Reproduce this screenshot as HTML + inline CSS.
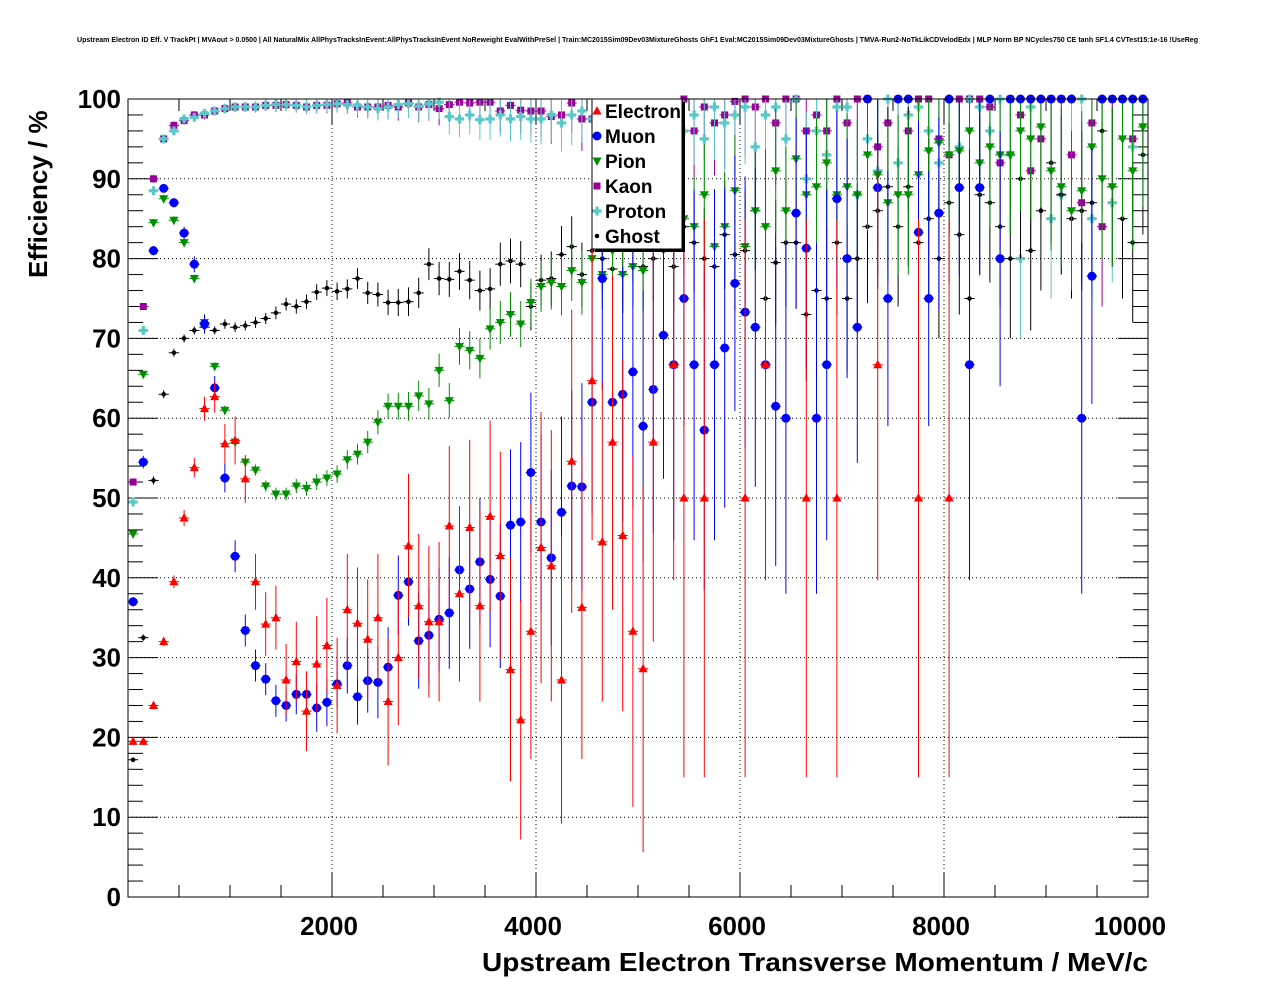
<!DOCTYPE html>
<html><head><meta charset="utf-8"><style>
html,body{margin:0;padding:0;background:#fff;}
svg{display:block;font-family:"Liberation Sans",sans-serif;}
</style></head><body>
<svg id="chart" width="1276" height="996" viewBox="0 0 1276 996" xmlns="http://www.w3.org/2000/svg">
<rect x="0" y="0" width="1276" height="996" fill="#fff"/>
<text x="77" y="42" font-size="7.2" font-weight="bold" textLength="1121" lengthAdjust="spacingAndGlyphs">Upstream Electron ID Eff. V TrackPt | MVAout &gt; 0.0500 | All NaturalMix AllPhysTracksInEvent:AllPhysTracksInEvent NoReweight EvalWithPreSel | Train:MC2015Sim09Dev03MixtureGhosts GhF1 Eval:MC2015Sim09Dev03MixtureGhosts | TMVA-Run2-NoTkLikCDVelodEdx | MLP Norm BP NCycles750 CE tanh SF1.4 CVTest15:1e-16 !UseReg</text>
<g id="grid"></g>
<g id="axes"></g>
<g id="marks"></g>
<rect x="128" y="99" width="1020" height="798" fill="none" stroke="#000" stroke-width="1"/>
<text transform="translate(47,278) rotate(-90)" font-size="26" font-weight="bold">Efficiency / %</text>
<text x="1148" y="971" font-size="26" font-weight="bold" text-anchor="end" textLength="666" lengthAdjust="spacingAndGlyphs">Upstream Electron Transverse Momentum / MeV/c</text>
<g id="legend"></g>
</svg>
<script>
const binCenters = [];
for (let i = 0; i < 100; i++) binCenters.push(50 + 100 * i);
const xTicks = [2000, 4000, 6000, 8000, 10000];
const xTickLabels = ["2000", "4000", "6000", "8000", "10000"];
const yTicks = [0, 10, 20, 30, 40, 50, 60, 70, 80, 90, 100];
const yTickLabels = ["0", "10", "20", "30", "40", "50", "60", "70", "80", "90", "100"];
const seriesNames = ["Electron", "Muon", "Pion", "Kaon", "Proton", "Ghost"];
const electron = [19.5,19.5,24,32,39.5,47.5,53.8,61.2,62.7,56.8,57.2,52.4,39.5,34.2,35,27.2,29.5,23.3,29.2,31.5,26.5,36,34.3,32.3,35,24.5,30,44,36.5,34.5,34.5,46.5,38,46.3,36.5,47.7,42.8,28.5,22.2,33.3,43.8,41.5,27.2,54.6,36.3,64.7,44.5,57,45.3,33.3,28.6,57,null,66.7,50,null,50,null,null,null,50,null,66.7,null,null,null,50,null,null,50,null,null,null,66.7,null,null,null,50,null,null,50,null,null,null,null,null,null,null,null,null,null,null,null,null,null,null,null,null,null,null];
const electronErr = [0.4,0.4,0.5,0.6,0.8,1,1.2,1.5,2,2.5,3,3,3.5,4,4,4.5,5,5,6,6,6,7,7,7.5,8,8,8.5,9,9,9.5,10,10,11,11,12,12,13,14,15,16,17,17,18,19,19,20,20,21,22,22,23,25,25,27,35,25,35,25,25,25,35,25,27,25,25,25,35,25,25,35,25,25,25,27,25,25,25,35,25,25,35];
const muon = [37,54.5,81,88.8,87,83.2,79.3,71.8,63.8,52.5,42.7,33.4,29,27.3,24.6,24,25.4,25.4,23.7,24.4,26.7,29,25.1,27.1,26.9,28.8,37.8,39.5,32.1,32.8,34.8,35.6,41,38.6,42,39.8,37.7,46.6,47,53.2,47,42.5,48.2,51.5,51.4,62,77.5,62,63,65.8,59,63.6,70.4,66.7,75,66.7,58.5,66.7,68.8,76.9,73.3,71.4,66.7,61.5,60,85.7,81.3,60,66.7,87.5,80,71.4,100,88.9,75,100,100,83.3,75,85.7,100,88.9,66.7,88.9,100,80,100,100,100,100,100,100,100,60,77.8,100,100,100,100,100];
const muonErr = [0.6,0.8,0.6,0.5,0.6,0.8,1,1.2,1.5,1.8,2,2,2,2,2,2,2.5,2.5,3,3,3,3.5,3.5,4,4.5,5,5,5.5,6,6,6.5,7,7,7.5,8,8.5,9,9.5,10,10,11,11,12,12,13,14,14,15,16,17,17,18,18,22,16,22,20,22,20,16,17,20,22,20,22,12,15,22,22,11,15,17,0,11,16,0,0,14,16,12,0,11,27,11,0,16,0,0,0,0,0,0,0,22,16,0,0,0,0,0];
const pion = [45.5,65.5,84.5,87.5,84.8,82,77.5,72,66.5,61,57,54.5,53.5,51.5,50.5,50.5,51.5,51.2,52,52.5,53,54.8,55.5,57,59.5,61.5,61.5,61.5,62.8,61.8,66,62.2,69,68.5,67.5,71.2,72,73,71.8,74.5,76.5,77,76.5,78.5,77,80,78,81,78,79,78.5,82,85,82,85,84,88,81.5,84,88.5,81.5,86,84,91,86,92.5,88,89,92,88,89,88,93,90.5,87,88,88,90.5,93.5,94.5,93,93.5,96,92,94,93,93,96,95,96.5,91,89,86,88.5,94,90,89,95,91,96.5];
const kaon = [52,74,90,95,96.7,97.3,98,98,98.5,98.8,99,99,99,99.2,99.2,99.3,99.2,99,99.2,99.2,99.4,99.5,99,99,99,99.2,99,99.5,99,99.3,98.8,99.3,99.6,99.5,99.6,99.6,98.5,99.2,98.6,98.5,98.5,97.8,98,99.5,97.5,97.5,96,99.5,95,97,99,99,96,98,100,96,99,97,98,99.7,100,99,100,97,100,100,96,98,96,100,97,100,100,94,97,100,96,100,100,95,93,100,100,100,99,92,100,98,91,95,100,100,93,87,97,84,100,100,95,100];
const proton = [49.5,71,88.5,95,96,97.5,97.7,98.2,98.5,98.8,99,99,99,99.2,99.3,99.3,99.2,99,99.2,99.3,99.4,99.3,99.2,99,98.8,99,99.3,99.4,99.1,99.4,99.6,97.8,97.5,98,97.4,97.5,98,97.5,97.8,97.5,97.5,98,97,98,98.5,97.5,98,97,98,98,99,99,96,97,96,98,95,99,97,98,99,94,98,99,95,100,90,96,93,99,99,88,95,91,100,92,98,99,96,92,100,94,100,99,96,100,93,80,99,100,85,88,100,100,85,100,87,100,94,100];
const ghost = [17.2,32.5,52.2,63,68.2,70,71,71.4,71,71.8,71.4,71.6,72,72.5,73.2,74.3,74,74.6,75.8,76.3,75.9,76.2,77.5,75.7,75.5,74.5,74.5,74.6,75.7,79.3,77.5,77.4,78.4,77.3,76,76.2,79.3,79.7,79.3,74,77.3,77.5,80.5,81.5,78,81,80,78.7,78,82,79,80,81,79,84,82,80,79,83,80.5,81,86,75,79.5,82,82,73,76,75,82,75,80,84,86,89,84,89,82,85,80,87,83,75,88,87,84,80,90,81,86,92,88,85,86,87,96,89,85,82,93];
const smallErr = [0.3,0.4,0.5,0.5,0.5,0.5,0.5,0.5,0.5,0.6,0.6,0.6,0.7,0.7,0.8,0.8,0.9,0.9,1,1,1.1,1.2,1.3,1.4,1.5,1.6,1.7,1.8,1.9,2,2.1,2.2,2.3,2.4,2.5,2.6,2.7,2.8,2.9,3,3.2,3.4,3.6,3.8,4,4.2,4.4,4.6,4.8,5,5.2,5.4,5.6,5.8,6,6.2,6.4,6.6,6.8,7,7.2,7.4,7.6,7.8,8,8.2,8.4,8.6,8.8,9,9.2,9.4,9.6,9.8,10,10,10,10,10,10,10,10,10,10,10,10,10,10,10,10,10,10,10,10,10,10,10,10,10,10];

const NS = "http://www.w3.org/2000/svg";
const X0 = 128, X1 = 1148, Y0 = 897, Y1 = 99;
function xs(v){ return X0 + (v/10000)*(X1-X0); }
function ys(v){ return Y0 - (v/100)*(Y0-Y1); }
function mk(tag, attrs, parent){ const e=document.createElementNS(NS,tag); for(const k in attrs) e.setAttribute(k,attrs[k]); parent.appendChild(e); return e; }

const grid = document.getElementById('grid'), axes = document.getElementById('axes'), marks = document.getElementById('marks');
xTicks.forEach(t=>{ if(t<10000){ const l=mk('line',{x1:xs(t),x2:xs(t),y1:Y0,y2:Y1,stroke:'#000','stroke-width':1,'stroke-dasharray':'1,3'},grid);

 }});
yTicks.forEach(t=>{ if(t>0&&t<100){ const l=mk('line',{x1:X0,x2:X1,y1:ys(t),y2:ys(t),stroke:'#000','stroke-width':1,'stroke-dasharray':'1,3'},grid);

 }});
for(let v=0; v<=10000; v+=500){ const major = v%2000===0; const len = major?25:12;
  mk('line',{x1:xs(v),x2:xs(v),y1:Y0,y2:Y0-len,stroke:'#000'},axes);
  mk('line',{x1:xs(v),x2:xs(v),y1:Y1,y2:Y1+len,stroke:'#000'},axes); }
for(let v=0; v<=100; v+=2){ const major = v%10===0; const len = major?30:15;
  mk('line',{x1:X0,x2:X0+len,y1:ys(v),y2:ys(v),stroke:'#000'},axes);
  mk('line',{x1:X1,x2:X1-len,y1:ys(v),y2:ys(v),stroke:'#000'},axes); }
xTicks.forEach((t,i)=>{ const tx=mk('text',{x:(t===10000?xs(t)-18:xs(t)-3),y:935,'font-size':26,'font-weight':'bold','text-anchor':'middle'},axes); tx.textContent=xTickLabels[i];

 });
yTicks.forEach((t,i)=>{ const tx=mk('text',{x:121,y:ys(t)+9,'font-size':26,'font-weight':'bold','text-anchor':'end'},axes); tx.textContent=yTickLabels[i];

 });

function marker(g, type, cx, cy, color){
  if(type==='tu') mk('polygon',{points:`${cx},${cy-5} ${cx-4.5},${cy+3.5} ${cx+4.5},${cy+3.5}`,fill:color},g);
  else if(type==='td') mk('polygon',{points:`${cx},${cy+5} ${cx-4.5},${cy-3.5} ${cx+4.5},${cy-3.5}`,fill:color},g);
  else if(type==='c') mk('circle',{cx:cx,cy:cy,r:4.5,fill:color},g);
  else if(type==='sc') mk('circle',{cx:cx,cy:cy,r:2.3,fill:color},g);
  else if(type==='sq') mk('rect',{x:cx-3.5,y:cy-3.5,width:7,height:7,fill:color},g);
  else if(type==='x'){ mk('rect',{x:cx-4.5,y:cy-1.6,width:9,height:3.2,fill:color},g); mk('rect',{x:cx-1.6,y:cy-4.5,width:3.2,height:9,fill:color},g); }
}
const seriesDefs = [
  {vals:kaon, err:smallErr, color:'#990099', type:'sq', name:'kaon'},
  {vals:proton, err:smallErr, color:'#5bc8c8', type:'x', name:'proton'},
  {vals:ghost, err:smallErr, color:'#000000', type:'sc', name:'ghost'},
  {vals:pion, err:smallErr, color:'#008f00', type:'td', name:'pion'},
  {vals:muon, err:muonErr, color:'#0000ff', type:'c', name:'muon'},
  {vals:electron, err:electronErr, color:'#ff0000', type:'tu', name:'electron'}
];
seriesDefs.forEach(s=>{
  const g = mk('g',{},marks);
  
  
  s.vals.forEach((v,i)=>{
    if(v===null||v===undefined) return;
    const cx = xs(binCenters[i]), cy = ys(v);
    const e = s.err[i]!==undefined ? s.err[i] : s.err[s.err.length-1];
    const hi = ys(Math.min(100, v+e)), lo = ys(Math.max(0, v-e));
    mk('line',{x1:cx,x2:cx,y1:hi,y2:lo,stroke:s.color,'stroke-width':1},g);
    mk('line',{x1:xs(binCenters[i]-50),x2:xs(binCenters[i]+50),y1:cy,y2:cy,stroke:s.color,'stroke-width':1},g);
    marker(g, s.type, cx, cy, s.color);
  });
});
const lg = document.getElementById('legend');
mk('rect',{x:595,y:102,width:90,height:150,fill:'#000'},lg);
mk('rect',{x:592,y:99,width:90,height:150,fill:'#fff',stroke:'#000','stroke-width':1},lg);
const legTypes=['tu','c','td','sq','x','sc'], legColors=['#ff0000','#0000ff','#008f00','#990099','#5bc8c8','#000000'];
seriesNames.forEach((n,i)=>{
  const y = 111 + i*25;
  const eg = mk('g',{},lg);
  
  
  marker(eg, legTypes[i], 597, y, legColors[i]);
  const t = mk('text',{x:605,y:y+7,'font-size':19,'font-weight':'bold'},eg); t.textContent=n;
});
</script>
</body></html>
